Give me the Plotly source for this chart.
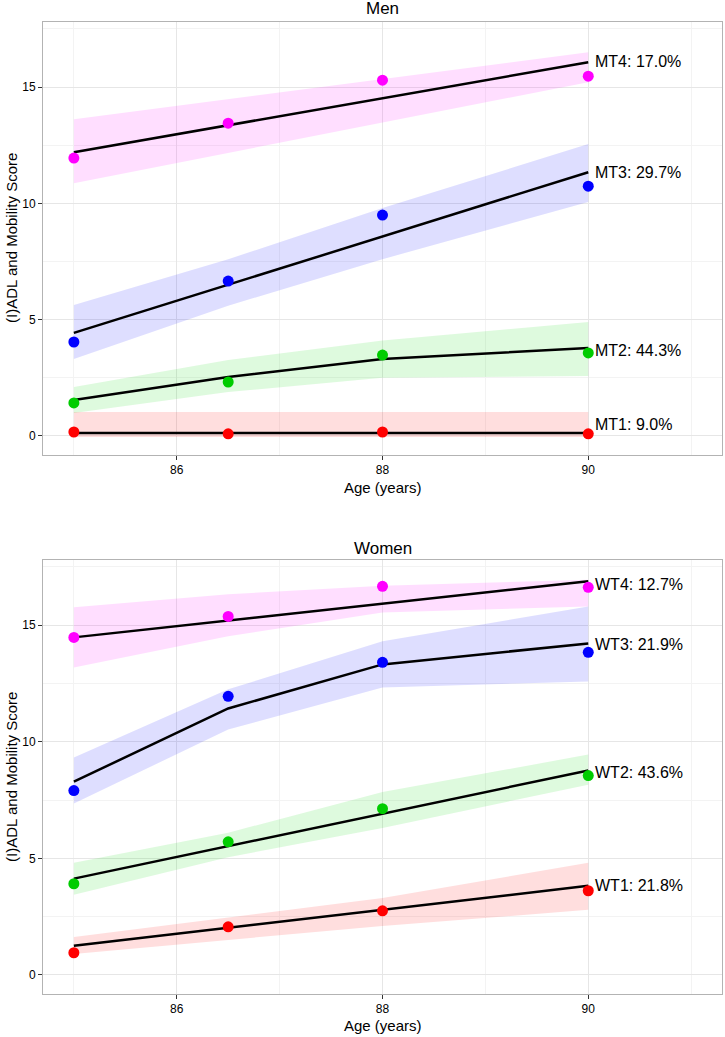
import plotly.graph_objects as go

# ages at each wave
ages = [85, 86.5, 88, 90]

# Men: observed means, fitted trajectory, band (lo/hi)
mt1_obs = [0.17, 0.09, 0.17, 0.09]
mt1_fit = [0.13, 0.13, 0.13, 0.13]
mt1_lo = [-0.04, -0.04, -0.04, -0.04]
mt1_hi = [1.03, 1.03, 1.03, 1.03]

mt2_obs = [1.42, 2.32, 3.48, 3.57]
mt2_fit = [1.55, 2.54, 3.31, 3.78]
mt2_lo = [0.99, 1.89, 2.5, 2.58]
mt2_hi = [2.11, 3.27, 4.1, 4.9]

mt3_obs = [4.04, 6.66, 9.5, 10.74]
mt3_fit = [4.43, 6.5, 8.58, 11.34]
mt3_lo = [3.31, 5.6, 7.6, 10.06]
mt3_hi = [5.63, 7.6, 9.8, 12.55]

mt4_obs = [11.95, 13.45, 15.3, 15.47]
mt4_fit = [12.2, 13.36, 14.52, 16.07]
mt4_lo = [10.87, 12.17, 13.47, 15.21]
mt4_hi = [13.62, 14.48, 15.35, 16.5]

men_labels = ["MT1: 9.0%", "MT2: 44.3%", "MT3: 29.7%", "MT4: 17.0%"]

# Women
wt1_obs = [0.95, 2.06, 2.75, 3.61]
wt1_fit = [1.25, 2.02, 2.79, 3.82]
wt1_lo = [0.9, 1.5, 2.1, 2.79]
wt1_hi = [1.63, 2.45, 3.3, 4.81]

wt2_obs = [3.91, 5.71, 7.13, 8.55]
wt2_fit = [4.13, 5.52, 6.91, 8.77]
wt2_lo = [3.44, 5.05, 6.3, 8.16]
wt2_hi = [4.81, 6.1, 7.85, 9.45]

wt3_obs = [7.91, 11.95, 13.41, 13.84]
wt3_fit = [8.29, 11.43, 13.32, 14.22]
wt3_lo = [7.35, 10.53, 12.33, 12.59]
wt3_hi = [9.33, 12.25, 14.31, 15.81]

wt4_obs = [14.48, 15.38, 16.67, 16.63]
wt4_fit = [14.48, 15.21, 15.93, 16.89]
wt4_lo = [13.19, 14.53, 15.55, 15.81]
wt4_hi = [15.77, 16.33, 16.7, 16.95]

women_labels = ["WT1: 21.8%", "WT2: 43.6%", "WT3: 21.9%", "WT4: 12.7%"]

point_colors = ["#ff0000", "#00cc00", "#0000ff", "#ff00ff"]
band_colors = ["rgba(255,0,0,0.13)", "rgba(0,220,0,0.13)",
               "rgba(0,0,255,0.13)", "rgba(255,0,255,0.13)"]

men = [(mt1_obs, mt1_fit, mt1_lo, mt1_hi), (mt2_obs, mt2_fit, mt2_lo, mt2_hi),
       (mt3_obs, mt3_fit, mt3_lo, mt3_hi), (mt4_obs, mt4_fit, mt4_lo, mt4_hi)]
women = [(wt1_obs, wt1_fit, wt1_lo, wt1_hi), (wt2_obs, wt2_fit, wt2_lo, wt2_hi),
         (wt3_obs, wt3_fit, wt3_lo, wt3_hi), (wt4_obs, wt4_fit, wt4_lo, wt4_hi)]

FONT = "Liberation Sans, Arial, Helvetica, sans-serif"

fig = go.Figure()


def add_panel(groups, labels, xa, ya, nudge):
    # ribbons first
    for (obs, fit, lo, hi), bc in zip(groups, band_colors):
        fig.add_trace(go.Scatter(x=ages + ages[::-1], y=hi + lo[::-1], fill="toself",
                                 fillcolor=bc, line=dict(width=0), mode="lines",
                                 hoverinfo="skip", showlegend=False, xaxis=xa, yaxis=ya))
    for (obs, fit, lo, hi) in groups:
        fig.add_trace(go.Scatter(x=ages, y=fit, mode="lines", line=dict(color="black", width=2.5),
                                 showlegend=False, xaxis=xa, yaxis=ya))
    for (obs, fit, lo, hi), pc in zip(groups, point_colors):
        fig.add_trace(go.Scatter(x=ages, y=obs, mode="markers",
                                 marker=dict(color=pc, size=11, line=dict(width=0)),
                                 showlegend=False, xaxis=xa, yaxis=ya))
    for (obs, fit, lo, hi), lab, ys in zip(groups, labels, nudge):
        fig.add_annotation(x=90.05, y=fit[-1], text=lab, xref=xa, yref=ya, showarrow=False,
                           xanchor="left", yanchor="middle", yshift=ys,
                           font=dict(size=16, color="black", family=FONT))


add_panel(men, men_labels, "x", "y", [8, -2, 0, 1])
add_panel(women, women_labels, "x2", "y2", [0, -2, -1, -3])

axis_common = dict(showline=True, mirror=True, linecolor="#b3b3b3", linewidth=1,
                   gridcolor="#e6e6e6", gridwidth=1, zeroline=False, ticks="outside",
                   ticklen=4, tickcolor="#333333", tickwidth=1,
                   tickfont=dict(size=12, color="black", family=FONT))

x_common = dict(axis_common, range=[84.7, 91.3], tickvals=[86, 88, 90],
                minor=dict(tickvals=[85, 87, 89, 91], showgrid=True, gridcolor="#f3f3f3", ticks=""))
y_common = dict(axis_common, range=[-0.82, 17.8], tickvals=[0, 5, 10, 15],
                minor=dict(tickvals=[2.5, 7.5, 12.5, 17.5], showgrid=True, gridcolor="#f3f3f3", ticks=""))

fig.update_layout(
    width=725, height=1037,
    margin=dict(l=43, r=3, t=22, b=43),
    plot_bgcolor="white", paper_bgcolor="white",
    font=dict(family=FONT, color="black"),
    xaxis=dict(x_common, domain=[0, 1], anchor="y"),
    yaxis=dict(y_common, domain=[0.5545, 1], anchor="x"),
    xaxis2=dict(x_common, domain=[0, 1], anchor="y2"),
    yaxis2=dict(y_common, domain=[0, 0.4465], anchor="x2"),
)

# panel titles and axis titles
for txt, y in [("Men", 1.0134), ("Women", 0.4588)]:
    fig.add_annotation(text=txt, x=0.5, y=y, xref="paper", yref="paper", showarrow=False,
                       xanchor="center", yanchor="middle", font=dict(size=17, family=FONT))
for y in [0.5216, -0.0319]:
    fig.add_annotation(text="Age (years)", x=0.5, y=y, xref="paper", yref="paper", showarrow=False,
                       xanchor="center", yanchor="middle", font=dict(size=15, family=FONT))
for y in [0.7778, 0.2233]:
    fig.add_annotation(text="(I)ADL and Mobility Score", x=-0.0457, y=y, xref="paper", yref="paper",
                       showarrow=False, textangle=-90, xanchor="center", yanchor="middle",
                       font=dict(size=15, family=FONT))

# drop the browser's default body margin so the figure sits at the page corner
fig.write_html("out.html", config={"displayModeBar": False},
               post_script="document.body.style.margin='0';")
